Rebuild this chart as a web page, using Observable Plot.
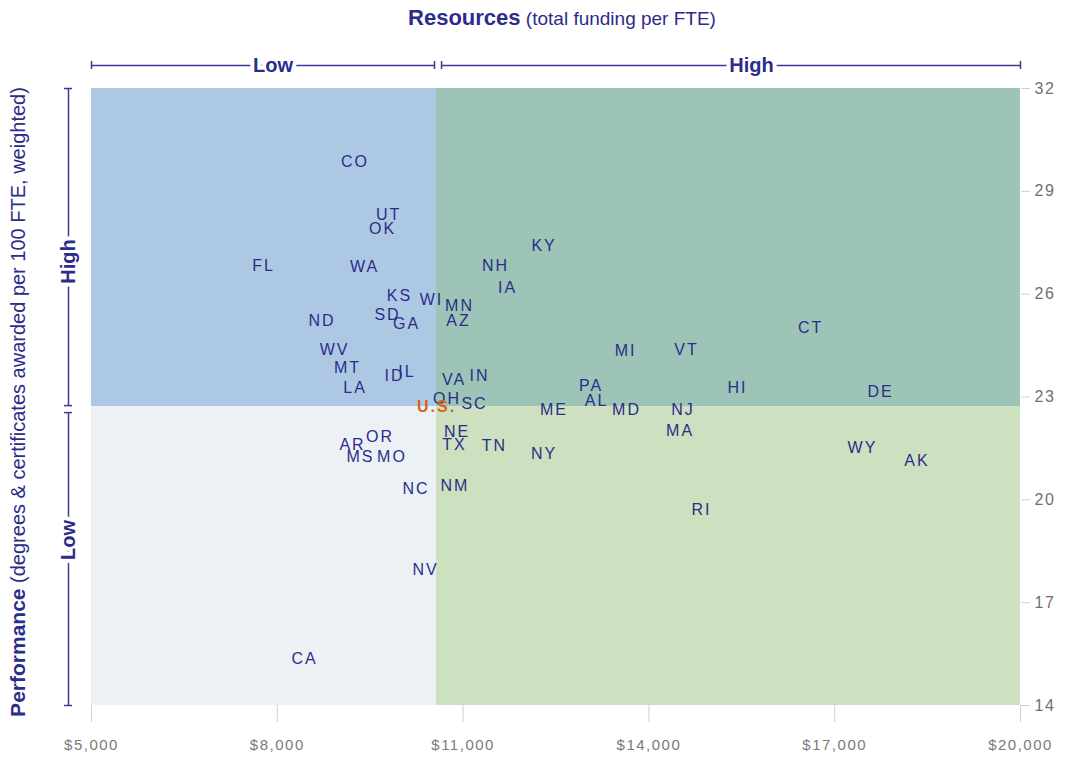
<!DOCTYPE html>
<html><head><meta charset="utf-8">
<script src="https://cdn.jsdelivr.net/npm/d3@7"></script>
<script src="https://cdn.jsdelivr.net/npm/@observablehq/plot@0.6"></script>
<style>
body{margin:0;background:#fff;}
#chart svg{display:block;}
</style></head><body><div id="chart"></div>
<script>
// ---- data ----
const states = ["CO","UT","OK","FL","WA","NH","KY","IA","KS","WI","MN","SD","GA","AZ","ND","CT","WV","MI","VT","MT","ID","IL","LA","VA","IN","PA","HI","DE","AL","OH","SC","ME","MD","NJ","MA","NE","TX","OR","AR","MS","MO","TN","NY","WY","AK","NC","NM","RI","NV","CA"];
const funding = [9255,9796,9699,7777,9408,11523,12307,11717,9973,10490,10942,9780,10086,10926,8722,16610,8924,13623,14607,9134,9893,10094,9255,10853,11265,13065,15431,17740,13154,10740,11184,12468,13639,14551,14503,10902,10861,9658,9214,9344,9852,11507,12307,17449,18329,10240,10869,14850,10393,8439];
const performance = [29.86,28.30,27.90,26.82,26.81,26.82,27.41,26.17,25.95,25.82,25.66,25.41,25.12,25.23,25.23,25.01,24.37,24.34,24.37,23.85,23.61,23.73,23.26,23.51,23.61,23.32,23.26,23.16,22.88,22.94,22.81,22.62,22.62,22.62,22.02,21.99,21.59,21.83,21.60,21.26,21.26,21.56,21.35,21.53,21.13,20.32,20.42,19.70,17.97,15.37];
const usLabel = "U.S.";
const usFunding = 10571;
const usPerformance = 22.72;
const xTicks = [5000, 8000, 11000, 14000, 17000, 20000];
const yTicks = [14, 17, 20, 23, 26, 29, 32];
const xDomain = [5000, 20000];
const yDomain = [14, 32];
const topTitleBold = "Resources";
const topTitleRest = " (total funding per FTE)";
const leftTitleBold = "Performance";
const leftTitleRest = " (degrees & certificates awarded per 100 FTE, weighted)";
const levelLow = "Low", levelHigh = "High";

// ---- styles ----
const navy = "#2c2c8a";
const lineNavy = "#3b3b96";
const font = "'Liberation Sans', Arial, sans-serif";

const quadrants = [
  {x1: xDomain[0], x2: usFunding, y1: usPerformance, y2: yDomain[1], fill: "#adc8e3"},
  {x1: usFunding, x2: xDomain[1], y1: usPerformance, y2: yDomain[1], fill: "#9dc4b6"},
  {x1: xDomain[0], x2: usFunding, y1: yDomain[0], y2: usPerformance, fill: "#ecf1f5"},
  {x1: usFunding, x2: xDomain[1], y1: yDomain[0], y2: usPerformance, fill: "#cde1c0"}
];
const idx = states.map((_, i) => i);
const fmt = d3.format(",");

const lineOpts = {stroke: lineNavy, strokeWidth: 1.5};
const capH = {insetTop: -4, insetBottom: -4, ...lineOpts};
const capV = {insetLeft: -4, insetRight: -4, ...lineOpts};
const bracketText = {fill: navy, fontWeight: "bold", fontSize: 20, fontFamily: font, stroke: "white", strokeWidth: 8, paintOrder: "stroke"};

const chart = Plot.plot({
  width: 1065,
  height: 758,
  marginLeft: 91,
  marginRight: 45,
  marginTop: 88,
  marginBottom: 53,
  style: {fontFamily: font, background: "white", overflow: "visible"},
  x: {domain: xDomain},
  y: {domain: yDomain},
  color: {type: "identity"},
  marks: [
    Plot.rect(quadrants, {x1: "x1", x2: "x2", y1: "y1", y2: "y2", fill: "fill"}),
    Plot.axisX({ticks: xTicks, tickFormat: d => "$" + fmt(d), tickSize: 17, tickPadding: 17, stroke: "#cfcfcf", fill: "#7a7a7a", fontSize: 15, label: null}),
    Plot.axisY({ticks: yTicks, anchor: "right", tickSize: 9, tickPadding: 5, stroke: "#cfcfcf", fill: "#707070", fontSize: 16, label: null}),
    // state labels
    Plot.text(idx, {x: i => funding[i], y: i => performance[i], text: i => states[i], fill: navy, fontSize: 16, fontFamily: font}),
    Plot.text([usLabel], {x: () => usFunding, y: () => usPerformance, text: d => d, fill: "#d4641e", fontWeight: "bold", fontSize: 16, fontFamily: font}),
    // top bracket
    Plot.ruleY([yDomain[1]], {x1: () => xDomain[0], x2: () => usFunding, dy: -23, insetRight: 2, ...lineOpts}),
    Plot.ruleY([yDomain[1]], {x1: () => usFunding, x2: () => xDomain[1], dy: -23, insetLeft: 5, ...lineOpts}),
    Plot.ruleX([xDomain[0], xDomain[1]], {y1: () => yDomain[1], y2: () => yDomain[1], dy: -23, ...capH}),
    Plot.ruleX([usFunding], {y1: () => yDomain[1], y2: () => yDomain[1], dy: -23, dx: -2, ...capH}),
    Plot.ruleX([usFunding], {y1: () => yDomain[1], y2: () => yDomain[1], dy: -23, dx: 5, ...capH}),
    Plot.text([levelLow], {x: () => (xDomain[0] + usFunding) / 2, y: () => yDomain[1], text: d => d, dy: -23, dx: 9, ...bracketText}),
    Plot.text([levelHigh], {x: () => (usFunding + xDomain[1]) / 2, y: () => yDomain[1], text: d => d, dy: -23, dx: 23, ...bracketText}),
    // left bracket
    Plot.ruleX([xDomain[0]], {y1: () => yDomain[1], y2: () => usPerformance, dx: -23, insetBottom: 1, ...lineOpts}),
    Plot.ruleX([xDomain[0]], {y1: () => usPerformance, y2: () => yDomain[0], dx: -23, insetTop: 6, ...lineOpts}),
    Plot.ruleY([yDomain[0], yDomain[1]], {x1: () => xDomain[0], x2: () => xDomain[0], dx: -23, ...capV}),
    Plot.ruleY([usPerformance], {x1: () => xDomain[0], x2: () => xDomain[0], dx: -23, dy: -1, ...capV}),
    Plot.ruleY([usPerformance], {x1: () => xDomain[0], x2: () => xDomain[0], dx: -23, dy: 6, ...capV}),
    Plot.text([levelHigh], {x: () => xDomain[0], y: () => (yDomain[1] + usPerformance) / 2, text: d => d, dx: -23, dy: 14, rotate: -90, ...bracketText}),
    Plot.text([levelLow], {x: () => xDomain[0], y: () => (usPerformance + yDomain[0]) / 2, text: d => d, dx: -23, dy: -16, rotate: -90, ...bracketText}),
    // titles
    Plot.text([topTitleBold + topTitleRest], {frameAnchor: "top", text: d => d, dy: -77, dx: 6, fill: navy, fontSize: 19, fontFamily: font}),
    Plot.text([leftTitleBold + leftTitleRest], {frameAnchor: "left", textAnchor: "middle", text: d => d, dx: -73, dy: 5, rotate: -90, fill: navy, fontSize: 20, fontFamily: font})
  ]
});

document.getElementById("chart").appendChild(chart);
const svg = d3.select(chart);
// letter spacing for labels and ticks
svg.selectAll("text").each(function() {
  const t = this.textContent;
  if (states.includes(t) || t === usLabel) d3.select(this).attr("letter-spacing", "2px");
});
svg.selectAll("g[aria-label='x-axis tick label'] text, g[aria-label='y-axis tick label'] text").attr("letter-spacing", "1.5px");
// mixed-weight titles
function splitTitle(full, bold, rest, boldSize) {
  svg.selectAll("text").filter(function() { return this.textContent === full; }).each(function() {
    const el = d3.select(this);
    el.text(null);
    el.append("tspan").attr("font-weight", "bold").attr("font-size", boldSize).text(bold);
    el.append("tspan").text(rest);
  });
}
splitTitle(topTitleBold + topTitleRest, topTitleBold, topTitleRest, 22);
splitTitle(leftTitleBold + leftTitleRest, leftTitleBold, leftTitleRest, 21);
</script></body></html>
